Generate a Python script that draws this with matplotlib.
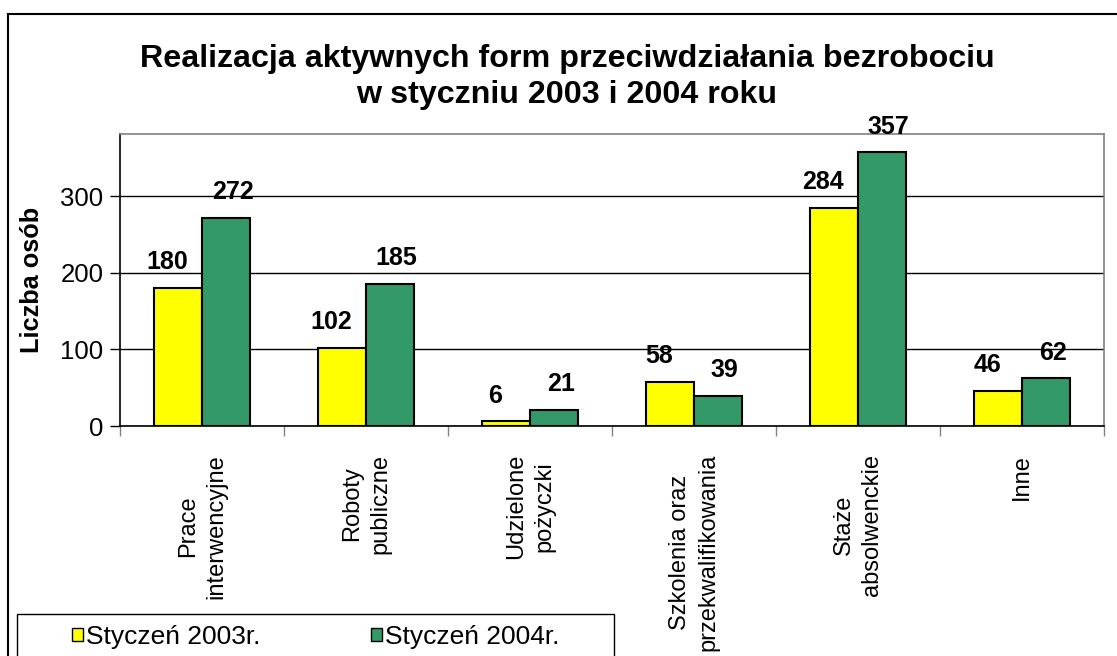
import matplotlib
matplotlib.use("Agg")
import matplotlib.pyplot as plt
from matplotlib.patches import Rectangle, Patch
import numpy as np

plt.rcParams['font.family'] = ['Liberation Sans', 'DejaVu Sans']

categories = ["Prace\ninterwencyjne", "Roboty\npubliczne", "Udzielone\npożyczki",
              "Szkolenia oraz\nprzekwalifikowania", "Staże\nabsolwenckie", "Inne"]
values_2003 = [180, 102, 6, 58, 284, 46]
values_2004 = [272, 185, 21, 39, 357, 62]
series_names = ["Styczeń 2003r.", "Styczeń 2004r."]
yticks = [0, 100, 200, 300]
title = "Realizacja aktywnych form przeciwdziałania bezrobociu\nw styczniu 2003 i 2004 roku"
ylabel = "Liczba osób"

W, H = 1117, 656
fig = plt.figure(figsize=(W / 100, H / 100), dpi=100)
ax = fig.add_axes([120 / W, 1 - 426 / H, (1104 - 120) / W, (426 - 134) / H])

x = np.arange(len(categories))
bw = 0.29
yellow = "#FFFF00"
green = "#339966"
b1 = ax.bar(x - bw / 2, values_2003, bw, color=yellow, edgecolor="black", linewidth=1.5, zorder=3)
b2 = ax.bar(x + bw / 2, values_2004, bw, color=green, edgecolor="black", linewidth=1.5, zorder=3)

for bars, vals, dx in ((b1, values_2003, -8), (b2, values_2004, 5)):
    for r, v in zip(bars, vals):
        ax.annotate(str(v), (r.get_x() + r.get_width() / 2, r.get_height()),
                    xytext=(dx, 10), textcoords="offset points",
                    ha="center", va="bottom", fontsize=18, fontweight="bold",
                    annotation_clip=False)

ax.set_xlim(-0.5, len(categories) - 0.5)
ax.set_ylim(0, 381)
ax.set_yticks(yticks)
ax.yaxis.grid(True, color="black", linewidth=1.0, zorder=0)
ax.set_axisbelow(True)
ax.tick_params(axis="y", direction="out", length=7, width=1, labelsize=18.5, pad=5, colors="black")

ax.set_xticks(np.arange(-0.5, len(categories), 1.0))
ax.set_xticklabels([])
ax.tick_params(axis="x", which="major", direction="out", length=7, width=1, color="#808080")
ax.set_xticks(x, minor=True)
ax.set_xticklabels(categories, minor=True, rotation=90, fontsize=17, va="top", ha="center",
                   multialignment="center", linespacing=1.35)
ax.tick_params(axis="x", which="minor", length=0, pad=20)

for s in ("top", "right"):
    ax.spines[s].set_color("#808080")
    ax.spines[s].set_linewidth(1.2)
for s in ("left", "bottom"):
    ax.spines[s].set_color("black")
    ax.spines[s].set_linewidth(1.2)

ax.set_ylabel(ylabel, fontsize=18.3, fontweight="bold")
ax.yaxis.set_label_coords(-76 / (1104 - 120), 0.5)

fig.text(567 / W, 1 - 77 / H, title, ha="center", va="center", fontsize=23.2,
         fontweight="bold", linespacing=1.26)

# outer chart frame
fig.add_artist(Rectangle((7.5 / W, -0.1), 1.2, 1 - 14 / H + 0.1, transform=fig.transFigure,
                         fill=False, edgecolor="black", linewidth=1.5, clip_on=False))
# legend frame
fig.add_artist(Rectangle((17 / W, -0.1), (614 - 17) / W, 1 - 614 / H + 0.1, transform=fig.transFigure,
                         fill=False, edgecolor="black", linewidth=1.0, clip_on=False))

handles = [Patch(facecolor=yellow, edgecolor="black", linewidth=1.0),
           Patch(facecolor=green, edgecolor="black", linewidth=1.0)]
fig.legend(handles, series_names, ncol=2, loc="center left",
           bbox_to_anchor=(72 / W, 1 - 637 / H), frameon=False, fontsize=19,
           handlelength=0.42, handleheight=0.42, handletextpad=0.12,
           columnspacing=4.17, borderpad=0, borderaxespad=0)

fig.savefig("out.png", dpi=100)
